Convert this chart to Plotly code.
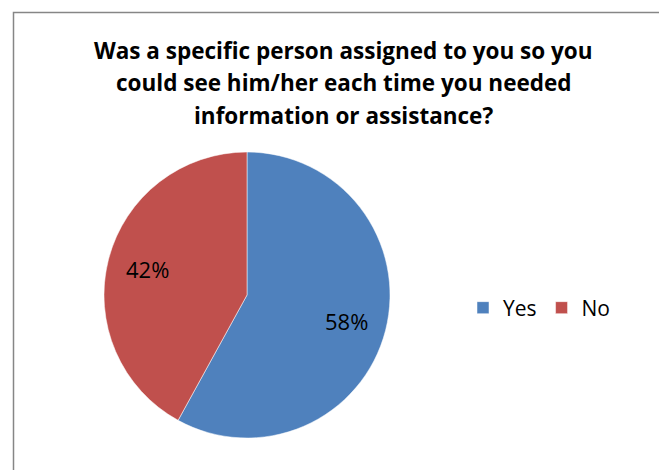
import math
import plotly.graph_objects as go

labels = ["Yes", "No"]
values = [58, 42]
colors = ["#4F81BD", "#C0504D"]
title_lines = ["Was a specific person assigned to you so you",
               "could see him/her each time you needed",
               "information or assistance?"]

W, H = 667, 470
# page body has an 8px margin; positions below are in figure pixels
cx, cy, R = 239, 287, 143

fig = go.Figure(go.Pie(
    labels=labels, values=values, sort=False, direction="clockwise", rotation=0,
    marker=dict(colors=colors, line=dict(color="white", width=0.5)),
    textinfo="none",
    domain=dict(x=[(cx - R)/W, (cx + R)/W], y=[1-(cy + R)/H, 1-(cy - R)/H]),
    hoverinfo="label+percent",
))

annotations = []
# data labels placed along each slice's mid-angle
total = sum(values)
start = 0.0
for v in values:
    frac = v / total
    mid = (start + frac / 2) * 2 * math.pi
    start += frac
    r = 0.72 * R
    px = cx + r * math.sin(mid)
    py = cy - r * math.cos(mid)
    annotations.append(dict(text=f"{round(frac*100)}%", x=px/W, y=1-py/H,
                            xref="paper", yref="paper", showarrow=False,
                            xanchor="center", yanchor="middle",
                            font=dict(family="Open Sans", size=22, color="black")))

title_y = [42, 74.5, 107]
for line, ty in zip(title_lines, title_y):
    annotations.append(dict(text=line, x=0.5 + 2/W, y=1-ty/H, xref="paper", yref="paper",
                            showarrow=False, xanchor="center", yanchor="middle",
                            font=dict(family="Open Sans", size=22.5, color="black", weight="bold")))

fig.update_layout(
    width=W, height=H, margin=dict(l=0, r=0, t=0, b=0),
    paper_bgcolor="white",
    annotations=annotations,
    legend=dict(orientation="h", x=455/W, xanchor="left", y=1-300/H, yanchor="middle",
                font=dict(family="Open Sans", size=21, color="black"),
                traceorder="normal"),
    shapes=[dict(type="rect", xref="paper", yref="paper",
                 x0=5.5/W, y0=-0.1, x1=1.1, y1=1-4.5/H,
                 line=dict(color="#868686", width=1.5), fillcolor="rgba(0,0,0,0)")],
)
fig.write_html("out.html")
